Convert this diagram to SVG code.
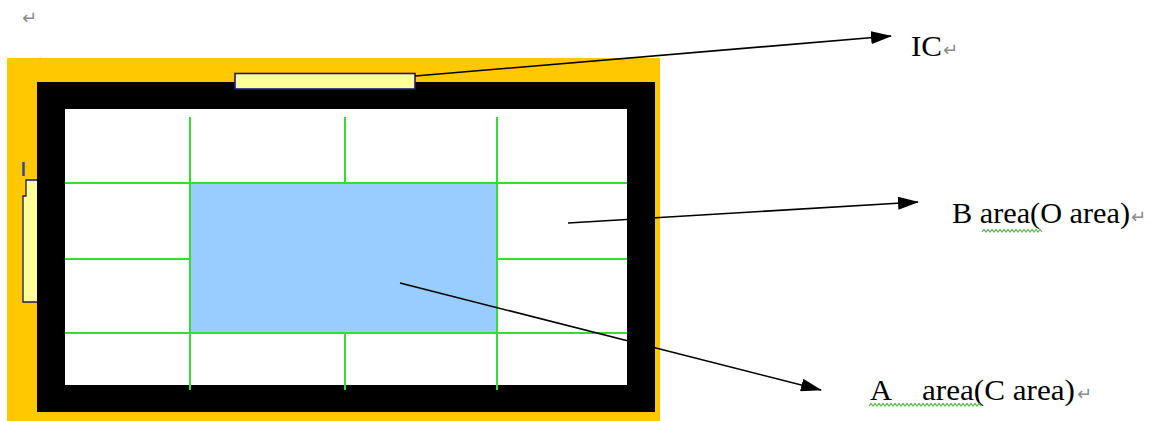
<svg xmlns="http://www.w3.org/2000/svg" width="1157" height="421" viewBox="0 0 1157 421">
<style>
.lbl{font-family:"Liberation Serif","DejaVu Serif",serif;font-size:30px;fill:#000}
.pm{font-family:"DejaVu Sans",sans-serif;font-size:18px;fill:#8a8a8a}
.grid{stroke:#33dd33;stroke-width:2;fill:none}
.conn{stroke:#000;stroke-width:1.6;fill:none;marker-end:url(#ah)}
.wavy{stroke:#55bb44;stroke-width:1.2;fill:none}
</style>
<defs>
<marker id="ah" markerWidth="21" markerHeight="13" refX="20" refY="6.5" orient="auto" markerUnits="userSpaceOnUse">
<path d="M0,0 L21,6.5 L0,13 Z" fill="#000"/>
</marker>
</defs>
<rect width="1157" height="421" fill="#fff"/>
<text class="pm" x="22" y="24">↵</text>
<text class="pm" x="29" y="69">↵</text>
<g id="board">
<rect x="7" y="58" width="653" height="363" fill="#ffc800"/>
<rect x="37" y="82" width="618" height="330" fill="#000"/>
<rect x="65" y="109" width="562" height="276" fill="#fff"/>
</g>
<g id="A-area">
<rect x="190" y="183" width="307" height="150" fill="#99ccff"/>
</g>
<g id="grid">
<path class="grid" d="M190,117V183M345,117V183M497,117V333M190,333V390M345,333V390M497,333V390M65,183H627M65,259H190M497,259H627M65,333H627M190,183V333"/>
</g>
<g id="IC">
<rect x="235" y="73.5" width="180" height="15.5" fill="#ffff99" stroke="#1a1a80" stroke-width="1.6"/>
</g>
<g id="side-IC">
<path d="M23.5,162V176" stroke="#3344aa" stroke-width="2.5"/>
<path d="M37,180H26V196H23V302H37" fill="#ffff99" stroke="#1a1a60" stroke-width="1.3"/>
</g>
<g id="connectors">
<line class="conn" x1="415" y1="76" x2="891" y2="36"/>
<line class="conn" x1="568" y1="223" x2="918" y2="202"/>
<line class="conn" x1="400" y1="283" x2="821" y2="390"/>
</g>
<g id="label-IC">
<text class="lbl" x="911" y="56" textLength="31" lengthAdjust="spacingAndGlyphs">IC</text>
<text class="pm" x="943" y="56">↵</text>
</g>
<g id="label-B">
<text class="lbl" x="952" y="223" textLength="178" lengthAdjust="spacingAndGlyphs">B area(O area)</text>
<text class="pm" x="1131" y="223">↵</text>
<path class="wavy" d="M982,232l2,-2.5l2,2.5l2,-2.5l2,2.5l2,-2.5l2,2.5l2,-2.5l2,2.5l2,-2.5l2,2.5l2,-2.5l2,2.5l2,-2.5l2,2.5l2,-2.5l2,2.5l2,-2.5l2,2.5l2,-2.5l2,2.5l2,-2.5l2,2.5l2,-2.5l2,2.5l2,-2.5l2,2.5l2,-2.5l2,2.5l2,-2.5l2,2.5"/>
</g>
<g id="label-A">
<text class="lbl" x="870" y="400" textLength="22" lengthAdjust="spacingAndGlyphs">A</text>
<text class="lbl" x="922" y="400" textLength="153" lengthAdjust="spacingAndGlyphs">area(C area)</text>
<text class="pm" x="1077" y="400">↵</text>
<path class="wavy" d="M869,406l2,-2.5l2,2.5l2,-2.5l2,2.5l2,-2.5l2,2.5l2,-2.5l2,2.5l2,-2.5l2,2.5l2,-2.5l2,2.5l2,-2.5l2,2.5l2,-2.5l2,2.5l2,-2.5l2,2.5l2,-2.5l2,2.5l2,-2.5l2,2.5l2,-2.5l2,2.5l2,-2.5l2,2.5l2,-2.5l2,2.5l2,-2.5l2,2.5l2,-2.5l2,2.5l2,-2.5l2,2.5l2,-2.5l2,2.5l2,-2.5l2,2.5l2,-2.5l2,2.5l2,-2.5l2,2.5l2,-2.5l2,2.5l2,-2.5l2,2.5l2,-2.5l2,2.5l2,-2.5l2,2.5l2,-2.5l2,2.5l2,-2.5l2,2.5l2,-2.5l2,2.5"/>
</g>
</svg>
